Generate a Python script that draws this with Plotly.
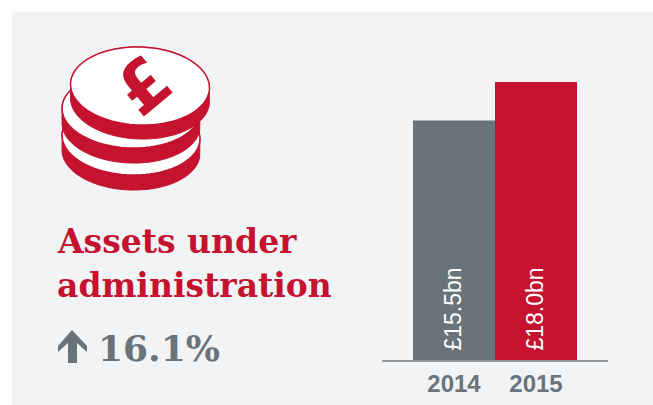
import numpy as np
import plotly.graph_objects as go

W, H = 653, 405

years = ["2014", "2015"]
assets_bn = [15.5, 18.0]
bar_labels = ["£15.5bn", "£18.0bn"]
bar_colors = ["#69737a", "#c4122f"]

RED = "#c4122f"
GREY = "#69737a"
PANEL = "#f2f3f5"


def fx(x):
    return x / W


def fy(y):
    return 1 - y / H


def poly(xs, ys):
    pts = [f"{fx(x):.4f},{fy(y):.4f}" for x, y in zip(xs, ys)]
    return "M" + " L".join(pts) + " Z"


# coin = side wall plus white top face, slightly tilted
def coin(cx, cy, rx, ry, depth, tilt=2):
    t = np.linspace(0, 2 * np.pi, 90)
    a = np.radians(tilt)
    ex = rx * np.cos(t)
    ey = ry * np.sin(t)
    x = cx + ex * np.cos(a) - ey * np.sin(a)
    y = cy + ex * np.sin(a) + ey * np.cos(a)
    body_y = y + depth * (np.sin(t) > 0)
    return [
        dict(type="path", xref="paper", yref="paper", path=poly(x, body_y),
             fillcolor=RED, line=dict(color=RED, width=1)),
        dict(type="path", xref="paper", yref="paper", path=poly(x, y),
             fillcolor="white", line=dict(color=RED, width=1.5)),
    ]


shapes = [
    dict(type="rect", xref="paper", yref="paper", x0=fx(12), x1=1, y0=0, y1=fy(12),
         fillcolor=PANEL, line=dict(width=0), layer="below"),
]
shapes += coin(131, 137, 69, 38, 15)
shapes += coin(131, 110, 69, 38, 15)
shapes += coin(140, 86, 69.5, 39, 14)

# up arrow next to the percentage
arrow_x = [72, 87, 87, 77, 77, 68, 68, 58, 58]
arrow_y = [330, 346, 352, 343, 363, 363, 343, 352, 346]
shapes.append(dict(type="path", xref="paper", yref="paper", path=poly(arrow_x, arrow_y),
                   fillcolor=GREY, line=dict(width=0)))


def note(x, y, text, size, color, family, bold=False, angle=0, anchor="left"):
    return dict(x=fx(x), y=fy(y), xref="paper", yref="paper", text=f"<b>{text}</b>" if bold else text,
                showarrow=False, xanchor=anchor, yanchor="middle", textangle=angle,
                font=dict(size=size, color=color, family=family))


annotations = [
    note(143, 86, "£", 68, RED, "DejaVu Sans", bold=True, angle=-40, anchor="center"),
    note(55, 241, "Assets under", 33, RED, "DejaVu Serif", bold=True),
    note(55, 285, "administration", 33, RED, "DejaVu Serif", bold=True),
    note(96, 348, "16.1%", 36, GREY, "DejaVu Serif", bold=True),
]

# value labels sit inside the bars, reading upwards from the base
for i, label in enumerate(bar_labels):
    annotations.append(dict(
        x=i, y=0, xref="x", yref="y", text=label, showarrow=False,
        xanchor="center", yanchor="bottom", yshift=7, xshift=-2, textangle=-90,
        font=dict(size=23, color="white", family="Liberation Sans"),
    ))

fig = go.Figure(go.Bar(
    x=years, y=assets_bn, width=1, marker=dict(color=bar_colors, line=dict(width=0)),
    textposition="none", cliponaxis=False,
))

fig.update_layout(
    width=W, height=H, margin=dict(l=0, r=0, t=0, b=0, autoexpand=False),
    paper_bgcolor="white", plot_bgcolor="rgba(0,0,0,0)", showlegend=False,
    shapes=shapes, annotations=annotations,
    xaxis=dict(domain=[fx(382), fx(608)], range=[-0.878, 1.878], type="category",
               showline=True, linecolor="#8e979d", linewidth=1.5, ticks="", showgrid=False,
               ticklabelstandoff=1,
               tickfont=dict(size=24, color=GREY, family="Liberation Sans", weight="bold")),
    yaxis=dict(domain=[fy(360), fy(60)], range=[0, 19.42], visible=False),
)

fig.write_html("out.html", config=dict(displayModeBar=False),
               post_script="document.body.style.margin='0';")
